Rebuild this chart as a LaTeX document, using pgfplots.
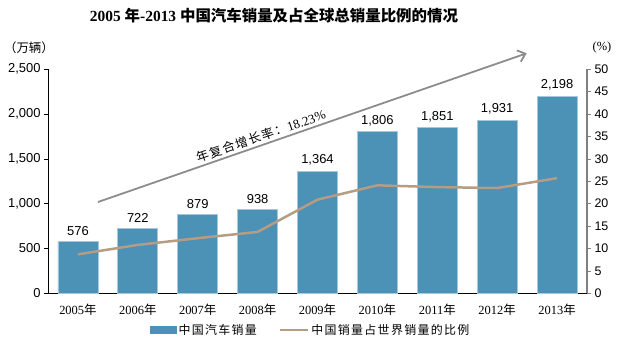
\documentclass[border=0pt]{standalone}
\usepackage{pgfplots}
\pgfplotsset{compat=1.18}
\usetikzlibrary{arrows.meta}
\usepackage{fontspec}
\setmainfont{Liberation Sans}
\newfontfamily\cjk{Noto Sans CJK SC}
\newfontfamily\cjksp[LetterSpace=11]{Noto Sans CJK SC}
\newfontfamily\serif{Liberation Serif}
\definecolor{barblue}{RGB}{76,145,182}
\definecolor{baredge}{RGB}{165,200,222}
\definecolor{linetan}{RGB}{182,156,130}
\definecolor{arrowgray}{RGB}{140,140,140}
\newcommand{\yr}[1]{{\serif #1}{\cjk 年}}
\pgfplotsset{/pgf/number format/assume math mode=true}
\begin{document}
\begin{tikzpicture}
\useasboundingbox (-48bp,-56.7bp) rectangle (570bp,293.3bp);
\begin{axis}[
  at={(0,0)}, anchor=south west, scale only axis,
  width=539bp, height=224bp,
  xmin=-0.5, xmax=8.5, ymin=0, ymax=2500,
  axis y line*=left, axis x line*=bottom,
  axis line style={black, line width=0.8pt, -},
  xtick={0,1,2,3,4,5,6,7,8},
  xticklabels={\yr{2005},\yr{2006},\yr{2007},\yr{2008},\yr{2009},\yr{2010},\yr{2011},\yr{2012},\yr{2013}},
  x tick label style={font=\fontsize{12.5}{14}\selectfont, yshift=-3bp},
  xtick style={draw=none},
  ytick={0,500,1000,1500,2000,2500},
  y tick label style={font=\fontsize{13}{15}\selectfont},
  yticklabel={\pgfmathprintnumber[1000 sep={,}]{\tick}},
  ytick style={black, line width=0.8pt},
  tick align=outside, major tick length=4bp,
  ybar, bar width=40bp,
  nodes near coords={\pgfmathprintnumber[1000 sep={,}]{\pgfplotspointmeta}},
  every node near coord/.append style={font=\fontsize{13}{15}\selectfont, yshift=2bp, black},
  legend style={at={(0.183,-0.164)}, anchor=west, draw=none, fill=none,
    legend columns=2, font=\cjksp\fontsize{12}{14}\selectfont,
    /tikz/every even column/.append style={column sep=20bp}},
  clip=false,
]
\addplot[fill=barblue, draw=baredge, line width=0.8pt,
  legend image code/.code={\fill[barblue] (0bp,-3.5bp) rectangle (26bp,3.5bp);}]
  coordinates {(0,576) (1,722) (2,879) (3,938) (4,1364) (5,1806) (6,1851) (7,1931) (8,2198)};
\addlegendentry{中国汽车销量}
\addlegendimage{legend image code/.code={\draw[linetan, line width=2.5pt] (0bp,0bp) -- (28bp,0bp);}}
\addlegendentry{中国销量占世界销量的比例}
\end{axis}
\begin{axis}[
  at={(0,0)}, anchor=south west, scale only axis,
  width=539bp, height=224bp,
  xmin=-0.5, xmax=8.5, ymin=0, ymax=50,
  axis y line*=right, axis x line=none,
  y axis line style={draw=gray, line width=1.5pt, -},
  ytick={0,5,...,50},
  y tick label style={font=\fontsize{12.5}{14}\selectfont},
  ytick style={gray, line width=0.8pt},
  tick align=outside, major tick length=4bp,
]
\addplot[linetan, line width=2.5pt, mark=none]
  coordinates {(0,8.7) (1,10.8) (2,12.3) (3,13.7) (4,20.9) (5,24.1) (6,23.7) (7,23.5) (8,25.7)};
\end{axis}
\draw[arrowgray, line width=1.8pt, -{Straight Barb[length=7bp, width=12bp]}] (50bp,91.3bp) -- (478.7bp,240bp);
\node[rotate=19.1, inner sep=1bp] at (213bp,157.3bp) {\cjksp\fontsize{12.5}{15}\selectfont 年复合增长率：{\serif\fontsize{13}{15}\selectfont 18.23\%}};
\node at (226bp,277.8bp) {\bfseries\fontsize{15.5}{17}\selectfont{\serif 2005 }{\cjk 年}{\serif -2013 }{\cjk 中国汽车销量及占全球总销量比例的情况}};
\node at (-19bp,245.3bp) {\cjk\fontsize{12.5}{14}\selectfont （万辆）};
\node at (554bp,245.3bp) {\serif\fontsize{12.5}{14}\selectfont (\%)};
\end{tikzpicture}
\end{document}
